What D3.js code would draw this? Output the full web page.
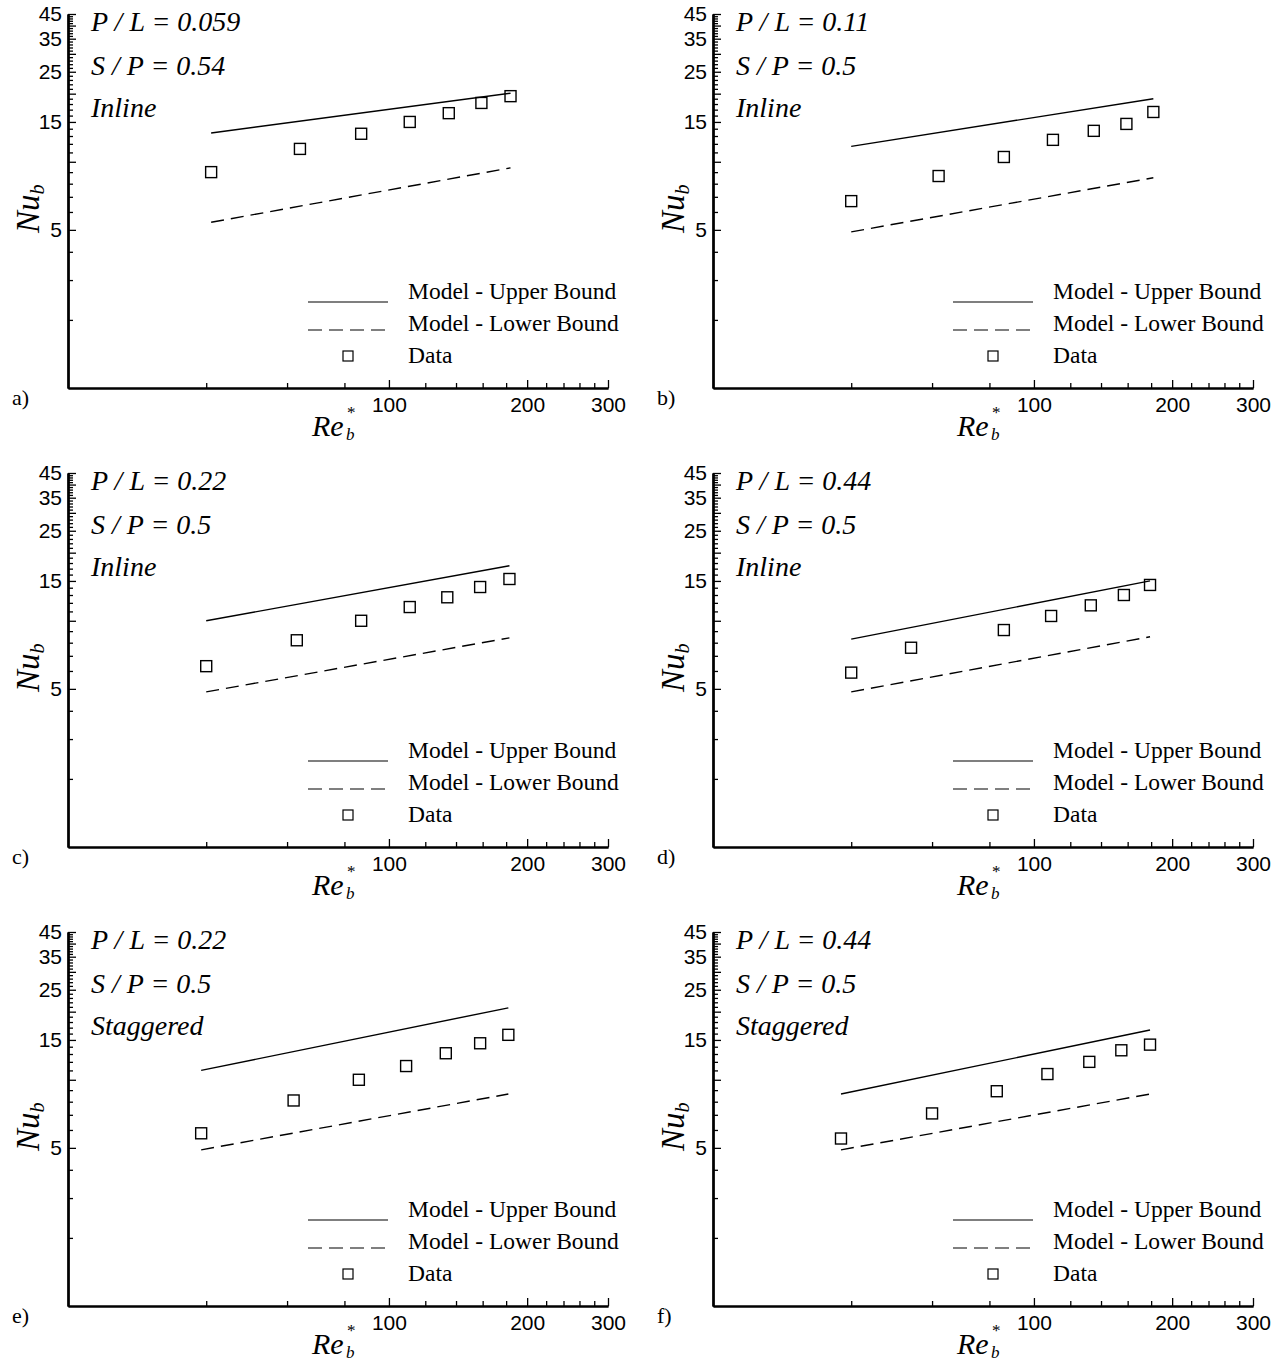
<!DOCTYPE html>
<html>
<head>
<meta charset="utf-8">
<script src="https://cdn.jsdelivr.net/npm/d3@7"></script>
<style>
  body { margin: 0; background: #fff; }
  svg { display: block; }
</style>
</head>
<body>
<div id="chart"></div>
<script>
// panel data
var panelLetters = ["a)", "b)", "c)", "d)", "e)", "f)"];
var plText = ["P / L = 0.059", "P / L = 0.11", "P / L = 0.22", "P / L = 0.44", "P / L = 0.22", "P / L = 0.44"];
var spText = ["S / P = 0.54", "S / P = 0.5", "S / P = 0.5", "S / P = 0.5", "S / P = 0.5", "S / P = 0.5"];
var layoutText = ["Inline", "Inline", "Inline", "Inline", "Staggered", "Staggered"];

var reData = [
  [41, 64, 87, 111, 135, 159, 184],
  [40, 62, 86, 110, 135, 159, 182],
  [40, 63, 87, 111, 134, 158, 183],
  [40, 54, 86, 109, 133, 157, 179],
  [39, 62, 86, 109, 133, 158, 182],
  [38, 60, 83, 107, 132, 155, 179]
];
var nuData = [
  [9.0, 11.4, 13.3, 15.0, 16.4, 18.2, 19.5],
  [6.7, 8.65, 10.5, 12.5, 13.7, 14.7, 16.6],
  [6.3, 8.2, 10.0, 11.5, 12.7, 14.1, 15.3],
  [5.9, 7.6, 9.1, 10.5, 11.7, 13.0, 14.4],
  [5.8, 8.1, 10.0, 11.5, 13.1, 14.5, 15.8],
  [5.5, 7.1, 8.9, 10.6, 12.0, 13.5, 14.3]
];
// model bounds (end points of the straight lines)
var upperRe = [[41, 184], [40, 182], [40, 183], [40, 179], [39, 182], [38, 179]];
var upperNu = [[13.4, 20.1], [11.7, 19.0], [10.0, 17.5], [8.3, 15.0], [11.0, 20.8], [8.65, 16.6]];
var lowerRe = [[41, 184], [40, 182], [40, 183], [40, 179], [39, 182], [38, 179]];
var lowerNu = [[5.4, 9.4], [4.9, 8.5], [4.85, 8.4], [4.85, 8.5], [4.9, 8.65], [4.9, 8.65]];

// ticks
var xMajorTicks = [100, 200, 300];
var xMinorTicks = [40, 60, 80, 120, 140, 160, 180, 220, 240, 260, 280];
var yLabelTicks = [5, 15, 25, 35, 45];
var yLongTicks = [10, 20, 30, 40];
var yMinorTicks = [2, 3, 4, 6, 7, 8, 9, 11, 12, 13, 14, 16, 17, 18, 19, 21, 22, 23, 24,
                   26, 27, 28, 29, 31, 32, 33, 34, 36, 37, 38, 39, 41, 42, 43, 44];

var legendNames = ["Model - Upper Bound", "Model - Lower Bound", "Data"];

var W = 1284, H = 1363;
var panelX = [0, 645, 0, 645, 0, 645];
var panelY = [0, 0, 459, 459, 918, 918];

var serif = "'Liberation Serif', 'Times New Roman', serif";
var sans = "'Liberation Sans', Arial, sans-serif";

var svg = d3.select("#chart").append("svg")
    .attr("width", W)
    .attr("height", H);

var x = d3.scaleLog().domain([20, 300]).range([68, 608]);
var y = d3.scaleLog().domain([1, 45]).range([388, 14]);

var line = d3.line()
    .x(function(d){ return x(d[0]); })
    .y(function(d){ return y(d[1]); });

panelLetters.forEach(function(letter, i) {
  var g = svg.append("g")
      .attr("transform", "translate(" + panelX[i] + "," + panelY[i] + ")");

  // axes: ticks point inward
  g.append("g").attr("transform", "translate(0,388)")
      .call(d3.axisBottom(x).tickValues(xMajorTicks).tickSizeInner(-8).tickSizeOuter(0)
            .tickPadding(9).tickFormat(d3.format("d")));
  g.append("g").attr("transform", "translate(0,388)")
      .call(d3.axisBottom(x).tickValues(xMinorTicks).tickSizeInner(-5).tickSizeOuter(0).tickFormat(""));

  g.append("g").attr("transform", "translate(68,0)")
      .call(d3.axisLeft(y).tickValues(yLabelTicks).tickSizeInner(-8).tickSizeOuter(0)
            .tickPadding(6).tickFormat(d3.format("d")));
  g.append("g").attr("transform", "translate(68,0)")
      .call(d3.axisLeft(y).tickValues(yLongTicks).tickSizeInner(-8).tickSizeOuter(0).tickFormat(""));
  g.append("g").attr("transform", "translate(68,0)")
      .call(d3.axisLeft(y).tickValues(yMinorTicks).tickSizeInner(-5).tickSizeOuter(0).tickFormat(""));

  g.selectAll(".domain").attr("stroke", "#000").attr("stroke-width", 2);
  g.selectAll(".tick line").attr("stroke", "#000").attr("stroke-width", 1.3);
  g.selectAll(".tick text").attr("font-family", sans).attr("font-size", 21).attr("fill", "#000");

  // model lines
  g.append("path")
      .datum(d3.zip(upperRe[i], upperNu[i]))
      .attr("d", line)
      .attr("fill", "none")
      .attr("stroke", "#000")
      .attr("stroke-width", 1.4);
  g.append("path")
      .datum(d3.zip(lowerRe[i], lowerNu[i]))
      .attr("d", line)
      .attr("fill", "none")
      .attr("stroke", "#000")
      .attr("stroke-width", 1.4)
      .attr("stroke-dasharray", "13,7");

  // data squares
  g.append("g").selectAll("rect")
      .data(d3.zip(reData[i], nuData[i]))
      .enter()
      .append("rect")
        .attr("x", function(d){ return x(d[0]) - 5.5; })
        .attr("y", function(d){ return y(d[1]) - 5.5; })
        .attr("width", 11)
        .attr("height", 11)
        .attr("fill", "none")
        .attr("stroke", "#000")
        .attr("stroke-width", 1.4);

  // annotations
  var ann = [plText[i], spText[i], layoutText[i]];
  var annY = [31, 75, 117];
  ann.forEach(function(t, k) {
    g.append("text")
        .attr("x", 91)
        .attr("y", annY[k])
        .attr("font-family", serif)
        .attr("font-style", "italic")
        .attr("font-size", 28)
        .text(t);
  });

  // legend
  var lg = g.append("g");
  lg.append("line").attr("x1", 308).attr("x2", 388).attr("y1", 302).attr("y2", 302)
      .attr("stroke", "#000").attr("stroke-width", 1.2);
  lg.append("line").attr("x1", 308).attr("x2", 388).attr("y1", 330).attr("y2", 330)
      .attr("stroke", "#000").attr("stroke-width", 1.2).attr("stroke-dasharray", "14,7");
  lg.append("rect").attr("x", 343).attr("y", 351).attr("width", 10).attr("height", 10)
      .attr("fill", "none").attr("stroke", "#000").attr("stroke-width", 1.2);
  var legY = [299, 331, 363];
  legendNames.forEach(function(t, k) {
    lg.append("text")
        .attr("x", 408)
        .attr("y", legY[k])
        .attr("font-family", serif)
        .attr("font-size", 23.5)
        .text(t);
  });

  // axis titles
  g.append("text")
      .attr("x", 312)
      .attr("y", 436)
      .attr("font-family", serif)
      .attr("font-style", "italic")
      .attr("font-size", 30)
      .text("Re");
  g.append("text").attr("x", 347).attr("y", 418)
      .attr("font-family", serif).attr("font-size", 17).text("*");
  g.append("text").attr("x", 346).attr("y", 440)
      .attr("font-family", serif).attr("font-style", "italic").attr("font-size", 17).text("b");

  var yt = g.append("text")
      .attr("transform", "translate(39,233) rotate(-90)")
      .attr("font-family", serif)
      .attr("font-style", "italic")
      .attr("font-size", 33);
  yt.append("tspan").text("Nu");
  yt.append("tspan").attr("font-size", 20).attr("dy", 5).text("b");

  // panel letter
  g.append("text")
      .attr("x", 12)
      .attr("y", 405)
      .attr("font-family", serif)
      .attr("font-size", 22)
      .text(letter);
});
</script>
</body>
</html>
